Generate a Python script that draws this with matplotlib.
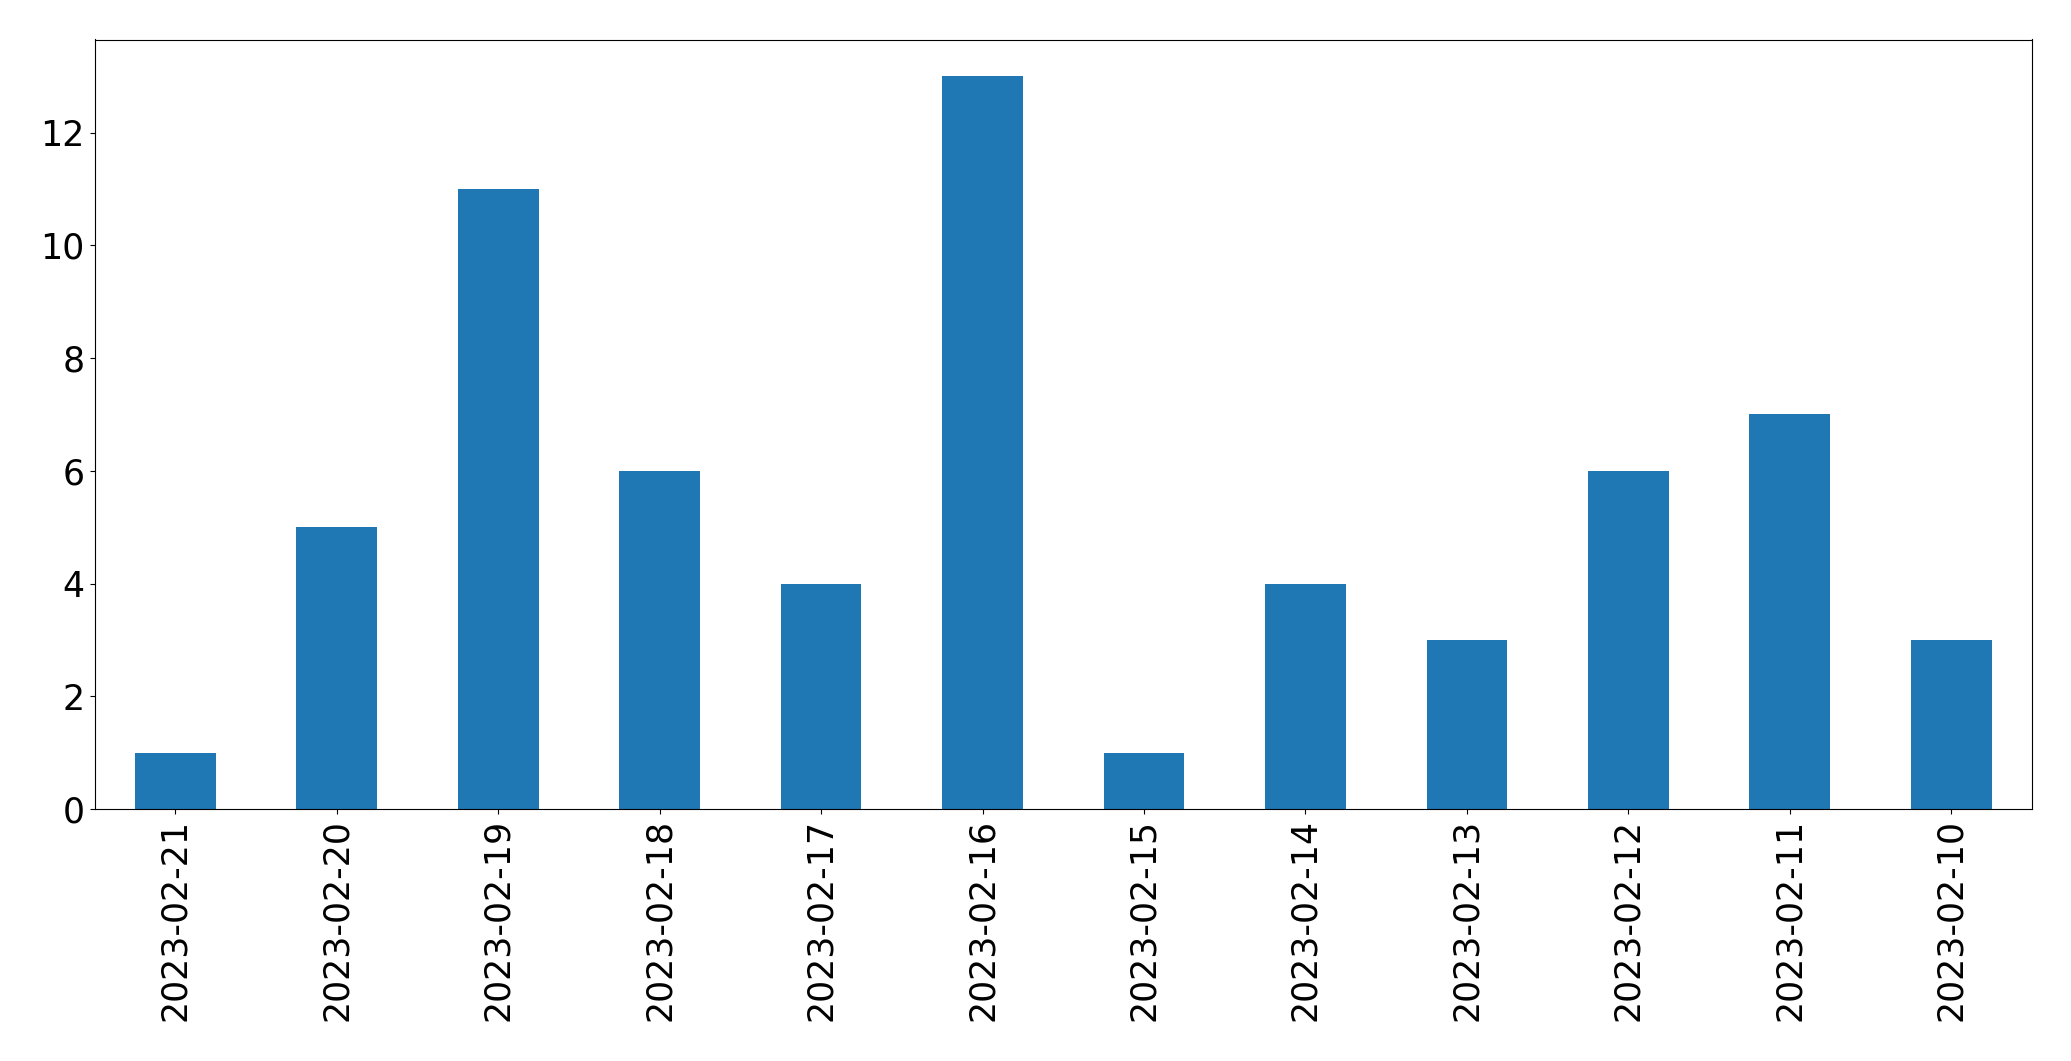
import matplotlib
matplotlib.use('Agg')
import matplotlib.pyplot as plt

dates = ['2023-02-21', '2023-02-20', '2023-02-19', '2023-02-18', '2023-02-17', '2023-02-16',
         '2023-02-15', '2023-02-14', '2023-02-13', '2023-02-12', '2023-02-11', '2023-02-10']
counts = [1, 5, 11, 6, 4, 13, 1, 4, 3, 6, 7, 3]

fig = plt.figure(figsize=(20.71, 10.61), dpi=100)
ax = fig.add_axes([94.5 / 2071, 1 - 809 / 1061, (2032 - 94.5) / 2071, (809 - 39.5) / 1061])

x = list(range(len(dates)))
ax.bar(x, counts, width=0.5, color='#1f77b4')
ax.set_xlim(-0.5, len(dates) - 0.5)
ax.set_xticks(x)
ax.set_xticklabels(dates, rotation=90)
ax.tick_params(axis='both', labelsize=25)

fig.savefig('out.png', dpi=100)
